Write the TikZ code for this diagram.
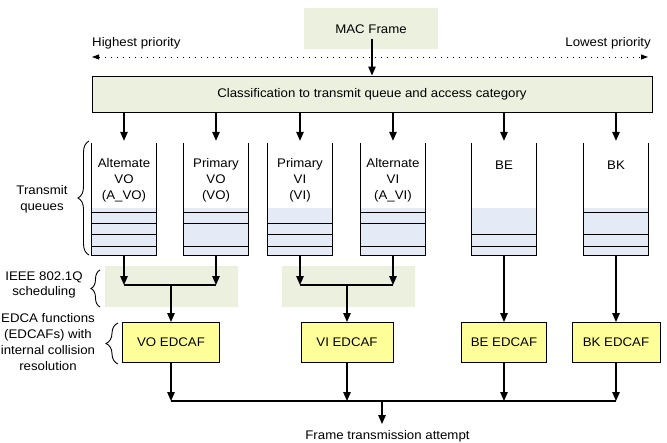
\documentclass[tikz,border=0pt]{standalone}
\usepackage{fontspec}
\setmainfont{Liberation Sans}[FakeStretch=1.06]
\usetikzlibrary{arrows.meta,decorations.pathreplacing,calc}
\definecolor{grn}{HTML}{EBF1DE}
\definecolor{yel}{HTML}{FFFF99}
\definecolor{blu}{HTML}{E5EBF6}
\begin{document}
\begin{tikzpicture}[x=1pt,y=-1pt,
  font=\fontsize{12.5}{15.8}\selectfont,
  arr/.style={line width=1.3pt,-{Triangle[length=9pt,width=7.5pt]}},
  ln/.style={line width=1.3pt},
  edcaf/.style={draw, line width=1pt, fill=yel, minimum height=40pt, inner sep=0pt},
  txt/.style={align=center, inner sep=0pt},
  brc/.style={decorate, decoration={brace, amplitude=9pt}, line width=0.9pt},
  qbox/.style={minimum width=64pt, minimum height=112pt, inner sep=0pt},
  greenbox/.style={fill=grn, inner sep=0pt},
  qline/.style={line width=1.1pt}
]
\useasboundingbox (0,0) rectangle (667,442);

% MAC frame
\node[greenbox, minimum width=134pt, minimum height=41pt] (mac) at (371,28.5) {};
\node[txt] (mact) at (371,29) {MAC Frame};
\coordinate (macout) at (372,39);

% priority
\node[anchor=west, inner sep=0pt] (hp) at (92,43) {Highest priority};
\node[anchor=east, inner sep=0pt] (lp) at (651,43) {Lowest priority};
\coordinate (pl) at (92,57);
\coordinate (pr) at (648,57);
\draw[line width=0.8pt, dash pattern=on 0.8pt off 5.2pt,
  {Triangle[length=7pt,width=5pt]}-{Triangle[length=7pt,width=5pt]}] (pl) -- (pr);

% classification
\node[draw, fill=grn, line width=1pt, minimum width=560pt, minimum height=36pt, inner sep=0pt] (cls) at (372,94)
  {Classification to transmit queue and access category};
\draw[arr] (macout) -- (cls.north -| macout);

% queues
\node[qbox] (q1) at (124,199) {};
\node[qbox] (q2) at (216,199) {};
\node[qbox] (q3) at (300,199) {};
\node[qbox] (q4) at (393,199) {};
\node[qbox] (q5) at (504,199) {};
\node[qbox] (q6) at (616,199) {};

\foreach \q in {q1,q2,q3,q4,q5,q6}{
  \fill[blu] (\q.south west) rectangle ($(\q.south east)+(0,-47)$);
}
% inner lines
\foreach \k in {43,32,21,9}{ \draw[qline] ($(q1.south west)+(0,-\k)$) -- ($(q1.south east)+(0,-\k)$); }
\foreach \k in {43,32,9}{ \draw[qline] ($(q2.south west)+(0,-\k)$) -- ($(q2.south east)+(0,-\k)$); }
\foreach \k in {32,21,9}{ \draw[qline] ($(q3.south west)+(0,-\k)$) -- ($(q3.south east)+(0,-\k)$); }
\foreach \k in {43,32,9}{ \draw[qline] ($(q4.south west)+(0,-\k)$) -- ($(q4.south east)+(0,-\k)$); }
\foreach \k in {21,9}{ \draw[qline] ($(q5.south west)+(0,-\k)$) -- ($(q5.south east)+(0,-\k)$); }
\foreach \k in {43,21,9}{ \draw[qline] ($(q6.south west)+(0,-\k)$) -- ($(q6.south east)+(0,-\k)$); }

\foreach \q in {q1,q2,q3,q4,q5,q6}{
  \draw[ln] (\q.north west) -- (\q.south west) -- (\q.south east) -- (\q.north east);
  \draw[arr] (cls.south -| \q) -- ([yshift=2pt]\q.north);
}

\node[txt] (t1) at (124,180) {Altemate\\VO\\(A\_VO)};
\node[txt] (t2) at (216,180) {Primary\\VO\\(VO)};
\node[txt] (t3) at (300,180) {Primary\\VI\\(VI)};
\node[txt] (t4) at (393,180) {Alternate\\VI\\(A\_VI)};
\node[txt] (t5) at (504,165) {BE};
\node[txt] (t6) at (616,165) {BK};

% scheduling boxes
\node[greenbox, minimum width=133pt, minimum height=41pt] (s1) at (171.5,286.5) {};
\node[greenbox, minimum width=133pt, minimum height=41pt] (s2) at (348.5,286.5) {};

% EDCAFs
\node[edcaf, minimum width=97pt] (vo) at (171,342.5) {VO EDCAF};
\node[edcaf, minimum width=92pt] (vi) at (347,342.5) {VI EDCAF};
\node[edcaf, minimum width=85pt] (be) at (504,342.5) {BE EDCAF};
\node[edcaf, minimum width=88pt] (bk) at (616,342.5) {BK EDCAF};

\coordinate (m1) at (171,285);
\coordinate (m2) at (347,285);
\draw[arr] (q1.south) -- (q1.south |- m1);
\draw[arr] (q2.south) -- (q2.south |- m1);
\draw[ln] (q1.south |- m1) -- (q2.south |- m1);
\draw[arr] (m1) -- (vo.north);
\draw[arr] (q3.south) -- (q3.south |- m2);
\draw[arr] (q4.south) -- (q4.south |- m2);
\draw[ln] (q3.south |- m2) -- (q4.south |- m2);
\draw[arr] (m2) -- (vi.north);
\draw[arr] (q5.south) -- (be.north);
\draw[arr] (q6.south) -- (bk.north);

% bottom
\coordinate (bot) at (382,401);
\coordinate (botend) at (382,424);
\foreach \e in {vo,vi,be,bk}{ \draw[arr] (\e.south) -- (\e.south |- bot); }
\draw[ln] (vo.south |- bot) -- (bk.south |- bot);
\draw[arr] (bot) -- (botend);
\node[txt] (fta) at (387.5,436) {Frame transmission attempt};

% left labels and braces
\node[txt] (tq) at (42,199.5) {Transmit\\queues};
\node[txt] (ieee) at (44,285) {IEEE 802.1Q\\scheduling};
\node[txt] (edca) at (48,342) {EDCA functions\\(EDCAFs) with\\internal collision\\resolution};
\coordinate (b1a) at (89,255); \coordinate (b1b) at (89,141);
\coordinate (b2a) at (100,307); \coordinate (b2b) at (100,270);
\coordinate (b3a) at (118,364); \coordinate (b3b) at (118,323);
\draw[brc, decoration={amplitude=11pt}] (b1a) -- (b1b);
\draw[brc] (b2a) -- (b2b);
\draw[brc, decoration={amplitude=12pt}] (b3a) -- (b3b);
\end{tikzpicture}
\end{document}
